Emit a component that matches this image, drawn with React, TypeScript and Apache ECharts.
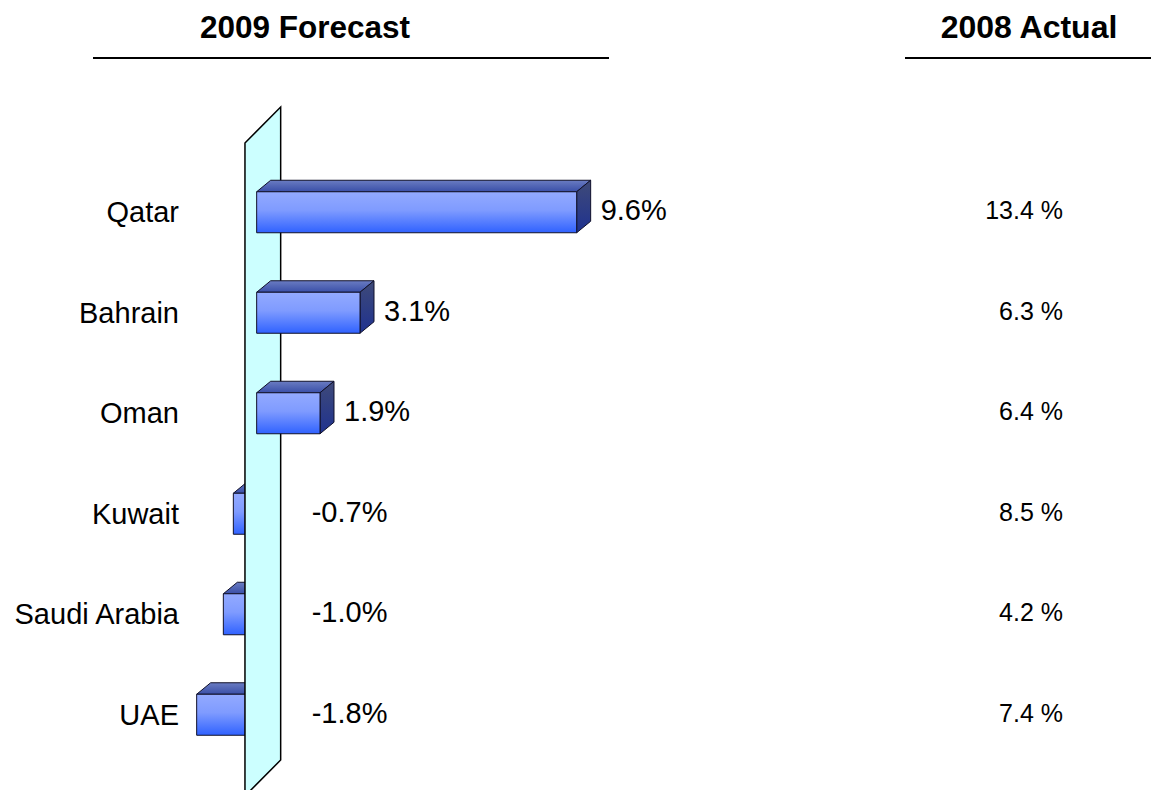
import React, { useEffect, useRef } from "react";
import * as echarts from "echarts";

const countries = ["Qatar", "Bahrain", "Oman", "Kuwait", "Saudi Arabia", "UAE"];
const forecast2009 = [9.6, 3.1, 1.9, -0.7, -1.0, -1.8];
const actual2008 = [13.4, 6.3, 6.4, 8.5, 4.2, 7.4];
const forecastTitle = "2009 Forecast";
const actualTitle = "2008 Actual";

const FONT = '"Liberation Sans", Arial, sans-serif';
const DX = 14;
const DY = -11.5;
const HALF = 20.5;

const frontGrad = {
  type: "linear", x: 0, y: 0, x2: 0, y2: 1,
  colorStops: [
    { offset: 0, color: "#93AAFF" },
    { offset: 0.45, color: "#7F9BFF" },
    { offset: 1, color: "#3062FF" },
  ],
};
const topGrad = {
  type: "linear", x: 0, y: 0, x2: 0, y2: 1,
  colorStops: [
    { offset: 0, color: "#6A7CC2" },
    { offset: 1, color: "#3A4FA8" },
  ],
};
const sideGrad = {
  type: "linear", x: 0, y: 0, x2: 0, y2: 1,
  colorStops: [
    { offset: 0, color: "#3F4A78" },
    { offset: 1, color: "#1F3290" },
  ],
};

function renderBar(params: any, api: any) {
  const v = api.value(0);
  const cat = api.value(1);
  const p0 = api.coord([0, cat]);
  const p1 = api.coord([v, cat]);
  const xl = Math.min(p0[0], p1[0]);
  const xr = Math.max(p0[0], p1[0]);
  const yt = p0[1] - HALF;
  const yb = p0[1] + HALF;
  const stroke = "#10102a";
  const label = v.toFixed(1) + "%";
  return {
    type: "group",
    children: [
      {
        type: "polygon",
        shape: { points: [[xl, yt], [xl + DX, yt + DY], [xr + DX, yt + DY], [xr, yt]] },
        style: { fill: topGrad, stroke, lineWidth: 1 },
      },
      {
        type: "polygon",
        shape: { points: [[xr, yt], [xr + DX, yt + DY], [xr + DX, yb + DY], [xr, yb]] },
        style: { fill: sideGrad, stroke, lineWidth: 1 },
      },
      {
        type: "rect",
        shape: { x: xl, y: yt, width: xr - xl, height: yb - yt },
        style: { fill: frontGrad, stroke, lineWidth: 1 },
      },
      {
        type: "text",
        x: v >= 0 ? xr + DX + 10 : p0[0] + 55,
        y: p0[1] - 2,
        style: {
          text: label,
          fill: "#000",
          font: `29px ${FONT}`,
          align: "left",
          verticalAlign: "middle",
        },
      },
    ],
  };
}

function renderWall(params: any, api: any) {
  const cs = params.coordSys;
  const x0 = api.coord([0, 0])[0];
  const left = x0 - 11.7;
  const right = x0 + 24;
  const top = cs.y;
  const bottom = cs.y + cs.height;
  return {
    type: "polygon",
    shape: {
      points: [
        [left, top - 19],
        [right, top - 55],
        [right, bottom - 5],
        [left, bottom + 31],
      ],
    },
    style: { fill: "#CCFFFF", stroke: "#000", lineWidth: 1.5 },
  };
}

function renderActual(params: any, api: any) {
  const v = api.value(0);
  const cat = api.value(1);
  const y = api.coord([0, cat])[1];
  return {
    type: "text",
    x: 1063,
    y: y - 2,
    style: {
      text: v.toFixed(1) + " %",
      fill: "#000",
      font: `25px ${FONT}`,
      align: "right",
      verticalAlign: "middle",
    },
  };
}

export default function App() {
  const ref = useRef<HTMLDivElement>(null);
  useEffect(() => {
    if (!ref.current) return;
    const chart = echarts.init(ref.current, undefined, { renderer: "svg" });
    const posData = forecast2009.map((v, i) => [v, i]).filter((d) => d[0] >= 0);
    const negData = forecast2009.map((v, i) => [v, i]).filter((d) => d[0] < 0);
    chart.setOption({
      animation: false,
      backgroundColor: "#fff",
      grid: { left: 190, top: 162, width: 466.67, height: 603 },
      xAxis: {
        type: "value",
        min: -2,
        max: 12,
        show: false,
        splitLine: { show: false },
      },
      yAxis: {
        type: "category",
        data: countries,
        inverse: true,
        axisLine: { show: false },
        axisTick: { show: false },
        splitLine: { show: false },
        axisLabel: {
          fontSize: 29,
          color: "#000",
          margin: 11,
          fontFamily: FONT,
        },
      },
      graphic: [
        {
          type: "text",
          x: 305,
          y: 27,
          style: {
            text: forecastTitle,
            fill: "#000",
            font: `bold 31.5px ${FONT}`,
            align: "center",
            verticalAlign: "middle",
          },
        },
        {
          type: "line",
          shape: { x1: 93, y1: 58, x2: 609, y2: 58 },
          style: { stroke: "#000", lineWidth: 2 },
        },
        {
          type: "text",
          x: 1029,
          y: 27,
          style: {
            text: actualTitle,
            fill: "#000",
            font: `bold 32px ${FONT}`,
            align: "center",
            verticalAlign: "middle",
          },
        },
        {
          type: "line",
          shape: { x1: 905, y1: 58, x2: 1151, y2: 58 },
          style: { stroke: "#000", lineWidth: 2 },
        },
      ],
      series: [
        {
          type: "custom",
          name: "neg",
          z: 1,
          renderItem: renderBar,
          encode: { x: 0, y: 1 },
          data: negData,
        },
        {
          type: "custom",
          name: "wall",
          z: 2,
          renderItem: renderWall,
          encode: { x: 0, y: 1 },
          data: [[0, 0]],
        },
        {
          type: "custom",
          name: "pos",
          z: 3,
          renderItem: renderBar,
          encode: { x: 0, y: 1 },
          data: posData,
        },
        {
          type: "custom",
          name: "actual",
          z: 3,
          renderItem: renderActual,
          encode: { x: 0, y: 1 },
          data: actual2008.map((v, i) => [v, i]),
        },
      ],
    });
    return () => chart.dispose();
  }, []);
  return (
    <div
      ref={ref}
      style={{ position: "absolute", left: 0, top: 0, width: 1151, height: 790, background: "#fff" }}
    />
  );
}
